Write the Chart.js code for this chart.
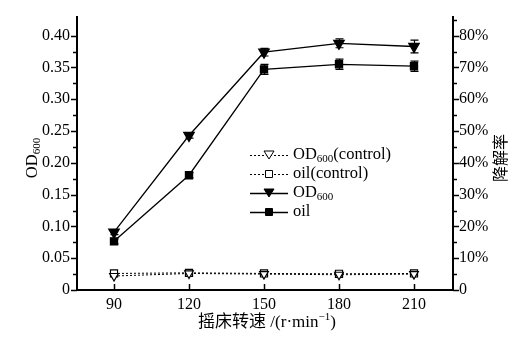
<!DOCTYPE html>
<html lang="zh">
<head>
  <meta charset="UTF-8">
  <title>OD600 / 降解率</title>
  <script src="https://cdn.jsdelivr.net/npm/chart.js"></script>
  <style>
    html, body { margin: 0; padding: 0; background: #fff; }
    #wrap { width: 518px; height: 342px; position: relative; }
  </style>
</head>
<body>
  <div id="wrap"><canvas id="chart"></canvas></div>

  <script>
    // data
    const speeds = [90, 120, 150, 180, 210];
    const od600 = [0.091, 0.243, 0.374, 0.388, 0.383];
    const od600Err = [0.004, 0.004, 0.006, 0.007, 0.010];
    const oilRate = [15.3, 36.1, 69.4, 71.0, 70.4];      // %
    const oilRateErr = [0.8, 0.8, 1.6, 1.6, 1.6];
    const od600Control = [0.022, 0.026, 0.025, 0.024, 0.025];
    const oilControl = [5.2, 5.4, 5.2, 5.1, 5.2];       // %
    const xTicks = [90, 120, 150, 180, 210];
    const leftTicks = [0, 0.05, 0.10, 0.15, 0.20, 0.25, 0.30, 0.35, 0.40];
    const rightTicks = [0, 10, 20, 30, 40, 50, 60, 70, 80];

    const FONT = "'Liberation Serif', 'Times New Roman', 'DejaVu Serif', 'Noto Sans CJK SC', serif";

    const pts = (ys) => speeds.map((x, i) => ({ x: x, y: ys[i] }));

    // error bars, axis ticks, titles and legend
    const decor = {
      id: 'decor',
      beforeDatasetsDraw(chart) {
        const ctx = chart.ctx;
        const x = chart.scales.x;
        ctx.save();
        ctx.strokeStyle = '#000';
        ctx.lineWidth = 1.2;
        const bars = [[od600, od600Err, chart.scales.y], [oilRate, oilRateErr, chart.scales.y2]];
        bars.forEach(([vals, errs, sc]) => {
          vals.forEach((v, i) => {
            const px = Math.round(x.getPixelForValue(speeds[i])) + 0.5;
            const top = sc.getPixelForValue(v + errs[i]);
            const bot = sc.getPixelForValue(v - errs[i]);
            ctx.beginPath();
            ctx.moveTo(px, top); ctx.lineTo(px, bot);
            ctx.moveTo(px - 4, top); ctx.lineTo(px + 4, top);
            ctx.moveTo(px - 4, bot); ctx.lineTo(px + 4, bot);
            ctx.stroke();
          });
        });
        ctx.restore();
      },
      afterDraw(chart) {
        const ctx = chart.ctx;
        const a = chart.chartArea;
        const x = chart.scales.x, y = chart.scales.y, y2 = chart.scales.y2;
        ctx.save();
        ctx.strokeStyle = '#000';
        ctx.lineWidth = 1.5;
        ctx.beginPath();
        // left ticks (major + minor), outward
        for (let v = 0; v <= 0.425; v += 0.025) {
          const py = Math.round(y.getPixelForValue(v)) + 0.5;
          const major = Math.round(v * 1000) % 50 === 0;
          ctx.moveTo(a.left, py); ctx.lineTo(a.left - (major ? 6 : 4), py);
        }
        // right ticks
        for (let v = 0; v <= 85; v += 5) {
          const py = Math.round(y2.getPixelForValue(v)) + 0.5;
          const major = v % 10 === 0;
          ctx.moveTo(a.right, py); ctx.lineTo(a.right + (major ? 6 : 4), py);
        }
        // x ticks, inward
        xTicks.forEach(v => {
          const px = Math.round(x.getPixelForValue(v)) + 0.5;
          ctx.moveTo(px, a.bottom); ctx.lineTo(px, a.bottom - 6);
        });
        ctx.stroke();

        ctx.fillStyle = '#000';
        // x title
        ctx.font = '17px ' + FONT;
        ctx.textBaseline = 'middle';
        const main = '摇床转速 /(r·min', sup = '−1', close = ')';
        const wMain = ctx.measureText(main).width;
        const wClose = ctx.measureText(close).width;
        ctx.font = '11px ' + FONT;
        const wSup = ctx.measureText(sup).width;
        let tx = 267 - (wMain + wSup + wClose) / 2;
        ctx.font = '17px ' + FONT;
        ctx.textAlign = 'left';
        ctx.fillText(main, tx, 323);
        ctx.font = '11px ' + FONT;
        ctx.fillText(sup, tx + wMain, 317);
        ctx.font = '17px ' + FONT;
        ctx.fillText(close, tx + wMain + wSup, 323);

        // left title OD600 rotated
        ctx.save();
        ctx.translate(33, 158);
        ctx.rotate(-Math.PI / 2);
        drawSub(ctx, 'OD', '600', '', 0, 0, true);
        ctx.restore();

        // right title, also reading bottom to top
        ctx.save();
        ctx.translate(502, 158);
        ctx.rotate(-Math.PI / 2);
        ctx.font = '16px ' + FONT;
        ctx.textAlign = 'center';
        ctx.textBaseline = 'middle';
        ctx.fillText('降解率', 0, 0);
        ctx.restore();

        // legend
        const rows = [
          { pre: 'OD', sub: '600', post: '(control)', dash: [2, 2], style: 'triangle', fill: false },
          { pre: 'oil(control)', sub: '', post: '', dash: [2, 2], style: 'rect', fill: false },
          { pre: 'OD', sub: '600', post: '', dash: [], style: 'triangle', fill: true },
          { pre: 'oil', sub: '', post: '', dash: [], style: 'rect', fill: true }
        ];
        rows.forEach((r, i) => {
          const ry = 155 + i * 19;
          ctx.save();
          ctx.lineWidth = r.dash.length ? 1 : 1.3;
          ctx.setLineDash(r.dash);
          ctx.beginPath();
          ctx.moveTo(250, ry + 0.5); ctx.lineTo(288, ry + 0.5);
          ctx.stroke();
          ctx.setLineDash([]);
          ctx.fillStyle = r.fill ? '#000' : '#fff';
          ctx.lineWidth = 1;
          if (r.style === 'triangle') {
            ctx.beginPath();
            ctx.moveTo(264, ry - 4); ctx.lineTo(274, ry - 4); ctx.lineTo(269, ry + 4);
            ctx.closePath();
            ctx.fill(); ctx.stroke();
          } else {
            ctx.beginPath();
            ctx.rect(265.5, ry - 3.5, 7, 7);
            ctx.fill(); ctx.stroke();
          }
          ctx.restore();
          drawSub(ctx, r.pre, r.sub, r.post, 293, ry, false);
        });
        ctx.restore();
      }
    };

    // text with subscript; centered if center is true
    function drawSub(ctx, pre, sub, post, x0, y0, center) {
      ctx.textBaseline = 'middle';
      ctx.textAlign = 'left';
      ctx.font = '16.5px ' + FONT;
      const w1 = ctx.measureText(pre).width;
      const w3 = ctx.measureText(post).width;
      ctx.font = '11px ' + FONT;
      const w2 = ctx.measureText(sub).width;
      let xx = center ? x0 - (w1 + w2 + w3) / 2 : x0;
      ctx.font = '16.5px ' + FONT;
      ctx.fillText(pre, xx, y0);
      ctx.font = '11px ' + FONT;
      ctx.fillText(sub, xx + w1, y0 + 4);
      ctx.font = '16.5px ' + FONT;
      ctx.fillText(post, xx + w1 + w2, y0);
    }

    const ctx = document.getElementById('chart').getContext('2d');
    new Chart(ctx, {
      type: 'line',
      data: {
        datasets: [
          {
            label: 'OD600(control)', data: pts(od600Control), yAxisID: 'y',
            borderColor: '#000', borderWidth: 1, borderDash: [2, 2],
            pointStyle: 'triangle', pointRotation: 180, pointRadius: 5,
            pointBackgroundColor: '#fff', pointBorderColor: '#000', pointBorderWidth: 1.2
          },
          {
            label: 'oil(control)', data: pts(oilControl), yAxisID: 'y2',
            borderColor: '#000', borderWidth: 1, borderDash: [2, 2],
            pointStyle: 'rect', pointRadius: 5,
            pointBackgroundColor: '#fff', pointBorderColor: '#000', pointBorderWidth: 1.2
          },
          {
            label: 'OD600', data: pts(od600), yAxisID: 'y',
            borderColor: '#000', borderWidth: 1.3,
            pointStyle: 'triangle', pointRotation: 180, pointRadius: 6,
            pointBackgroundColor: '#000', pointBorderColor: '#000'
          },
          {
            label: 'oil', data: pts(oilRate), yAxisID: 'y2',
            borderColor: '#000', borderWidth: 1.3,
            pointStyle: 'rect', pointRadius: 5,
            pointBackgroundColor: '#000', pointBorderColor: '#000'
          }
        ]
      },
      options: {
        responsive: true,
        maintainAspectRatio: false,
        animation: false,
        layout: { padding: { top: 14, left: 0, right: 0, bottom: 0 } },
        plugins: { legend: { display: false }, tooltip: { enabled: false } },
        scales: {
          x: {
            type: 'linear', min: 75.2, max: 225.6,
            afterBuildTicks: s => { s.ticks = xTicks.map(v => ({ value: v })); },
            afterFit: s => { s.height = 52; },
            grid: { drawOnChartArea: false, drawTicks: false },
            border: { color: '#000', width: 2 },
            ticks: { color: '#000', font: { family: FONT, size: 16 }, padding: 5, maxRotation: 0 }
          },
          y: {
            position: 'left', min: 0, max: 0.43,
            afterBuildTicks: s => { s.ticks = leftTicks.map(v => ({ value: v })); },
            afterFit: s => { s.width = 77; },
            grid: { drawOnChartArea: false, drawTicks: false },
            border: { color: '#000', width: 2 },
            ticks: {
              color: '#000', font: { family: FONT, size: 16 }, padding: 7,
              callback: v => v === 0 ? '0' : v.toFixed(2)
            }
          },
          y2: {
            position: 'right', min: 0, max: 86,
            afterBuildTicks: s => { s.ticks = rightTicks.map(v => ({ value: v })); },
            afterFit: s => { s.width = 65; },
            grid: { drawOnChartArea: false, drawTicks: false },
            border: { color: '#000', width: 2 },
            ticks: {
              color: '#000', font: { family: FONT, size: 16 }, padding: 6,
              callback: v => v === 0 ? '0' : v + '%'
            }
          }
        }
      },
      plugins: [decor]
    });
  </script>
</body>
</html>
